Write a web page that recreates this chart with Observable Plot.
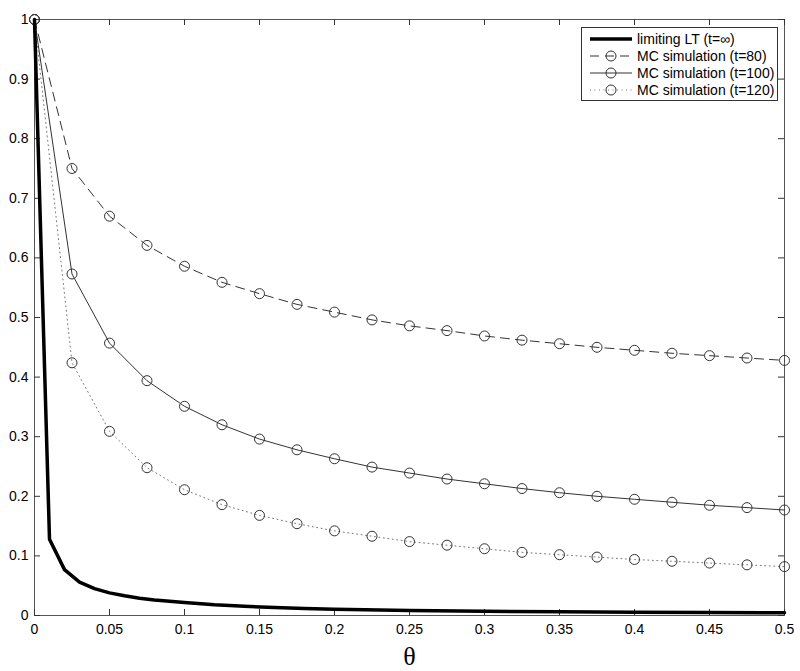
<!DOCTYPE html>
<html><head><meta charset="utf-8">
<script src="https://cdn.jsdelivr.net/npm/d3@7"></script>
<script src="https://cdn.jsdelivr.net/npm/@observablehq/plot@0.6"></script>
<style>
body{margin:0;background:#fff;}
#wrap{position:relative;width:800px;height:671px;font-family:"Liberation Sans",Arial,sans-serif;}
#legend{position:absolute;left:581px;top:27px;}
</style></head>
<body><div id="wrap"></div>
<script>
const xTicks = [0, 0.05, 0.1, 0.15, 0.2, 0.25, 0.3, 0.35, 0.4, 0.45, 0.5];
const yTicks = [0, 0.1, 0.2, 0.3, 0.4, 0.5, 0.6, 0.7, 0.8, 0.9, 1];
const thetaMC = [0, 0.025, 0.05, 0.075, 0.1, 0.125, 0.15, 0.175, 0.2, 0.225, 0.25, 0.275, 0.3, 0.325, 0.35, 0.375, 0.4, 0.425, 0.45, 0.475, 0.5];
const mc80  = [1, 0.750, 0.670, 0.621, 0.586, 0.559, 0.540, 0.522, 0.509, 0.496, 0.486, 0.478, 0.469, 0.462, 0.456, 0.450, 0.445, 0.440, 0.436, 0.432, 0.428];
const mc100 = [1, 0.573, 0.457, 0.394, 0.351, 0.320, 0.296, 0.278, 0.263, 0.249, 0.239, 0.229, 0.221, 0.213, 0.206, 0.200, 0.195, 0.190, 0.185, 0.181, 0.177];
const mc120 = [1, 0.424, 0.309, 0.248, 0.211, 0.186, 0.168, 0.154, 0.142, 0.133, 0.124, 0.118, 0.112, 0.106, 0.102, 0.098, 0.094, 0.091, 0.088, 0.085, 0.082];
const limTheta = [0, 0.01, 0.02, 0.03, 0.04, 0.05, 0.06, 0.07, 0.08, 0.09, 0.1, 0.12, 0.14, 0.16, 0.18, 0.2, 0.25, 0.3, 0.35, 0.4, 0.45, 0.5];
const limLT = [1, 0.128, 0.077, 0.056, 0.045, 0.038, 0.033, 0.029, 0.026, 0.024, 0.022, 0.018, 0.0155, 0.0135, 0.0118, 0.0105, 0.0085, 0.0072, 0.0063, 0.0056, 0.005, 0.0046];
const seriesNames = ["limiting LT (t=\u221e)", "MC simulation (t=80)", "MC simulation (t=100)", "MC simulation (t=120)"];
const xLabel = "\u03b8";

const toPts = (xs, ys) => xs.map((x, i) => ({x, y: ys[i]}));
const d80 = toPts(thetaMC, mc80), d100 = toPts(thetaMC, mc100), d120 = toPts(thetaMC, mc120);
const dLim = toPts(limTheta, limLT);
const fmt = d => String(d);
const font = '"Liberation Sans", Arial, sans-serif';
const tickStroke = "#333";

const chart = Plot.plot({
  width: 800, height: 671,
  marginLeft: 34, marginRight: 16, marginTop: 19, marginBottom: 56,
  style: {fontFamily: font, fontSize: "14px", color: "#000", background: "#fff"},
  x: {domain: [0, 0.5]},
  y: {domain: [0, 1]},
  marks: [
    Plot.frame({stroke: "#555", strokeWidth: 1}),
    Plot.axisX({anchor: "bottom", ticks: xTicks, tickSize: 0, tickPadding: 9, tickFormat: fmt, label: null, fontSize: 14}),
    Plot.axisY({anchor: "left", ticks: yTicks, tickSize: 0, tickPadding: 6, tickFormat: fmt, label: null, fontSize: 14}),
    // inward ticks on all four sides
    Plot.ruleX(xTicks, {x: d => d, y1: 0, y2: 0, insetBottom: 6, stroke: tickStroke}),
    Plot.ruleX(xTicks, {x: d => d, y1: 1, y2: 1, insetTop: 6, stroke: tickStroke}),
    Plot.ruleY(yTicks, {y: d => d, x1: 0, x2: 0, insetLeft: 6, stroke: tickStroke}),
    Plot.ruleY(yTicks, {y: d => d, x1: 0.5, x2: 0.5, insetRight: 6, stroke: tickStroke}),
    Plot.line(d80, {x: "x", y: "y", stroke: "#333", strokeWidth: 1, strokeDasharray: "9,6"}),
    Plot.line(d100, {x: "x", y: "y", stroke: "#333", strokeWidth: 1}),
    Plot.line(d120, {x: "x", y: "y", stroke: "#777", strokeWidth: 1, strokeDasharray: "1,3.5"}),
    Plot.dot(d80, {x: "x", y: "y", r: 5, stroke: "#333", strokeWidth: 1, fill: "none"}),
    Plot.dot(d100, {x: "x", y: "y", r: 5, stroke: "#333", strokeWidth: 1, fill: "none"}),
    Plot.dot(d120, {x: "x", y: "y", r: 5, stroke: "#333", strokeWidth: 1, fill: "none"}),
    Plot.line(dLim, {x: "x", y: "y", stroke: "#000", strokeWidth: 3.5}),
    Plot.text([xLabel], {frameAnchor: "bottom", dy: 41, lineAnchor: "middle", fontSize: 26, fontFamily: '"Liberation Serif", "DejaVu Serif", serif', fill: "#000"})
  ]
});
document.getElementById("wrap").appendChild(chart);

// legend
const W = 197, H = 74;
const lg = d3.create("svg").attr("id", "legend").attr("width", W).attr("height", H)
  .style("font-family", font).style("font-size", "14px");
lg.append("rect").attr("x", 0.5).attr("y", 0.5).attr("width", W - 1).attr("height", H - 1)
  .attr("fill", "#fff").attr("stroke", "#333");
const styles = [
  {stroke: "#000", w: 3.5, dash: null, dot: false},
  {stroke: "#333", w: 1, dash: "9,6", dot: true},
  {stroke: "#333", w: 1, dash: null, dot: true},
  {stroke: "#777", w: 1, dash: "1,3.5", dot: true}
];
seriesNames.forEach((name, i) => {
  const yy = 12 + i * 17;
  const s = styles[i];
  const ln = lg.append("line").attr("x1", 9).attr("x2", 51).attr("y1", yy).attr("y2", yy)
    .attr("stroke", s.stroke).attr("stroke-width", s.w);
  if (s.dash) ln.attr("stroke-dasharray", s.dash);
  if (s.dot) lg.append("circle").attr("cx", 30).attr("cy", yy).attr("r", 5).attr("fill", "none").attr("stroke", "#333");
  lg.append("text").attr("x", 56).attr("y", yy).attr("dy", "0.35em").attr("fill", "#000").text(name);
});
document.getElementById("wrap").appendChild(lg.node());
</script></body></html>
